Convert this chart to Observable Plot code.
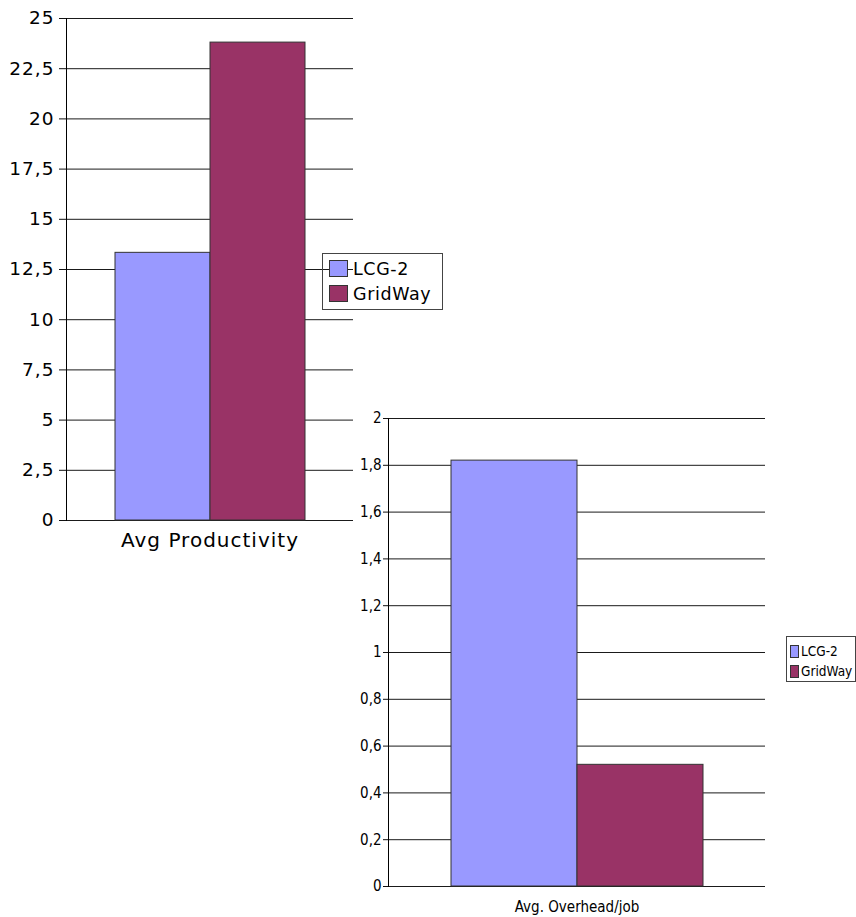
<!DOCTYPE html>
<html>
<head>
<meta charset="utf-8">
<script src="https://cdn.jsdelivr.net/npm/d3@7"></script>
<script src="https://cdn.jsdelivr.net/npm/@observablehq/plot@0.6"></script>
<style>
  html, body { margin: 0; padding: 0; background: #fff; }
  #wrap { position: relative; width: 856px; height: 917px; overflow: hidden; }
  #wrap svg { position: absolute; overflow: visible; }
  .legend { position: absolute; box-sizing: border-box; border: 1px solid #444; background: transparent; z-index: 5; }
  .legend .item { position: absolute; display: flex; align-items: center; white-space: nowrap; color: #000; }
  .legend .sw { box-sizing: border-box; border: 1px solid #333; flex: none; }
</style>
</head>
<body>
<div id="wrap"></div>
<script>
// ---- data ----
const categories = ["Avg Productivity", "Avg. Overhead/job"];
const series = ["LCG-2", "GridWay"];
const productivity = [13.33, 23.8];
const overhead = [1.82, 0.52];
const seriesColors = ["#9999ff", "#993366"];
const productivityTicks = [0, 2.5, 5, 7.5, 10, 12.5, 15, 17.5, 20, 22.5, 25];
const overheadTicks = [0, 0.2, 0.4, 0.6, 0.8, 1, 1.2, 1.4, 1.6, 1.8, 2];

const fmt = d => String(d).replace(".", ",");
const wrap = document.getElementById("wrap");

function chart(cfg) {
  const rows = series.map((s, i) => ({category: cfg.category, series: s, value: cfg.values[i]}));
  const svg = Plot.plot({
    width: cfg.width, height: cfg.height,
    marginLeft: cfg.ml, marginRight: cfg.mr, marginTop: cfg.mt, marginBottom: cfg.mb,
    style: {fontFamily: cfg.font, fontSize: cfg.fontSize + "px", letterSpacing: cfg.ls + "px", background: "transparent", color: "#000"},
    fx: {domain: [cfg.category], padding: 0, label: null},
    x: {domain: series, paddingInner: 0, paddingOuter: cfg.po, axis: null},
    y: {domain: [cfg.ticks[0], cfg.ticks[cfg.ticks.length - 1]], label: null, axis: null},
    color: {domain: series, range: seriesColors},
    marks: [
      Plot.ruleY(cfg.ticks, {stroke: "#1a1a1a", strokeWidth: 1}),
      Plot.barY(rows, {fx: "category", x: "series", y: "value", fill: "series", stroke: "#333", strokeWidth: 1}),
      Plot.axisY({ticks: cfg.ticks, tickFormat: fmt, tickSize: cfg.tickSize, tickPadding: cfg.tickPadding, label: null, stroke: "#111"}),
      Plot.frame({anchor: "left", stroke: "#000"}),
      Plot.axisFx({anchor: "bottom", tickSize: 0, tickPadding: cfg.fxPad, label: null, fontSize: cfg.fxSize, letterSpacing: cfg.fxLs})
    ]
  });
  svg.style.left = cfg.left + "px";
  svg.style.top = cfg.top + "px";
  wrap.appendChild(svg);
}

chart({category: categories[0], values: productivity, ticks: productivityTicks,
  left: 0, top: 0, width: 360, height: 560, ml: 66, mr: 7, mt: 18, mb: 40, po: 0.495,
  font: "DejaVu Sans", fontSize: 18.5, ls: 1, tickSize: 7, tickPadding: 5,
  fxPad: 12, fxSize: 20, fxLs: 1.1});

chart({category: categories[1], values: overhead, ticks: overheadTicks,
  left: 330, top: 400, width: 440, height: 517, ml: 58, mr: 5, mt: 18, mb: 31, po: 0.496,
  font: "DejaVu Sans Condensed", fontSize: 15, ls: 0, tickSize: 5, tickPadding: 2,
  fxPad: 15, fxSize: 15, fxLs: 0});

function legend(cfg) {
  const box = document.createElement("div");
  box.className = "legend";
  Object.assign(box.style, {left: cfg.left + "px", top: cfg.top + "px", width: cfg.w + "px", height: cfg.h + "px"});
  series.forEach((s, i) => {
    const it = document.createElement("div");
    it.className = "item";
    Object.assign(it.style, {left: cfg.padL + "px", top: (cfg.rowTop + i * cfg.rowH) + "px", height: cfg.rowH + "px",
      fontFamily: cfg.font, fontSize: cfg.fontSize + "px", letterSpacing: cfg.ls + "px"});
    const sw = document.createElement("div");
    sw.className = "sw";
    Object.assign(sw.style, {width: cfg.sw + "px", height: cfg.sh + "px", background: seriesColors[i], marginRight: cfg.gap + "px"});
    const t = document.createElement("span");
    t.textContent = s;
    it.appendChild(sw); it.appendChild(t);
    box.appendChild(it);
  });
  wrap.appendChild(box);
}

legend({left: 322, top: 253, w: 121, h: 57, padL: 6, rowTop: 2, rowH: 25, sw: 19, sh: 17, gap: 5,
  font: "DejaVu Sans", fontSize: 17.5, ls: 0.6});
legend({left: 786, top: 636, w: 70, h: 46, padL: 3, rowTop: 4, rowH: 20, sw: 9, sh: 13, gap: 2,
  font: "DejaVu Sans Condensed", fontSize: 13.5, ls: 0});
</script>
</body>
</html>
